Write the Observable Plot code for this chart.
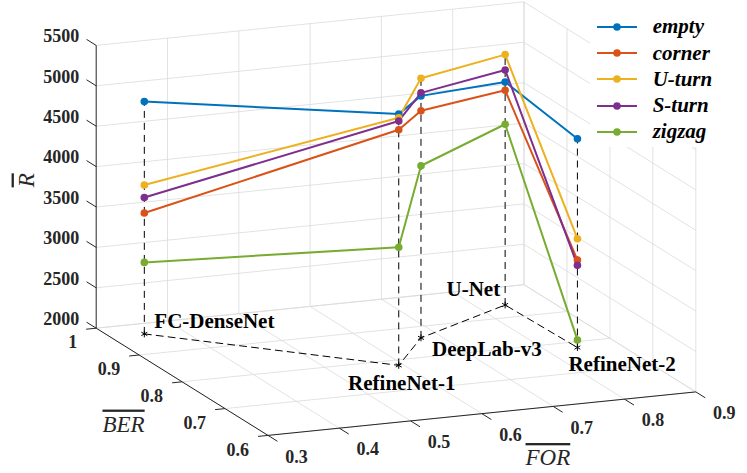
<!DOCTYPE html>
<html><head><meta charset="utf-8">
<script src="https://cdn.jsdelivr.net/npm/d3@7"></script>
<script src="https://cdn.jsdelivr.net/npm/@observablehq/plot@0.6"></script>
<style>
body{margin:0;background:#fff;}
#wrap{position:relative;width:747px;height:473px;overflow:hidden;}
#legend{position:absolute;left:590px;top:2px;width:155px;height:145px;background:#fff;font-family:"Liberation Serif","Times New Roman",serif;font-weight:bold;font-style:italic;font-size:21px;color:#000;}
.row{position:absolute;left:0;height:26px;display:flex;align-items:center;}
.row svg{margin-left:6.7px;margin-right:16px;}
</style></head><body><div id="wrap"></div>
<script>
// ---- data ----
const methods = ["FC-DenseNet", "RefineNet-1", "DeepLab-v3", "U-Net", "RefineNet-2"];
const forValues = [0.347, 0.593, 0.673, 0.838, 0.843];
const berValues = [0.966, 0.782, 0.863, 0.941, 0.781];
const seriesNames = ["empty", "corner", "U-turn", "S-turn", "zigzag"];
const empty  = [4875, 5110, 4995, 4760, 4583];
const corner = [3496, 4917, 4810, 4658, 3083];
const uturn  = [3842, 5065, 5214, 5099, 3347];
const sturn  = [3689, 5025, 5032, 4909, 3017];
const zigzag = [2885, 3462, 4130, 4237, 2094];
const forTicks = [0.3, 0.4, 0.5, 0.6, 0.7, 0.8, 0.9];
const berTicks = [0.6, 0.7, 0.8, 0.9, 1];
const rTicks = [2000, 2500, 3000, 3500, 4000, 4500, 5000, 5500];
const forTickLabels = ["0.3", "0.4", "0.5", "0.6", "0.7", "0.8", "0.9"];
const berTickLabels = ["0.6", "0.7", "0.8", "0.9", "1"];
const rTickLabels = ["2000", "2500", "3000", "3500", "4000", "4500", "5000", "5500"];
const colors = ["#0072BD", "#D95319", "#EDB120", "#7E2F8E", "#77AC30"];

// ---- view (3D -> 2D projection, layout only) ----
const forDom = [0.3, 0.9], berDom = [0.6, 1], rDom = [2000, 5500];
const view = {ox: 95.7, oy: 327.7, fx: 713, fy: -72.5, bx: 429.5, by: 268, rz: -0.0808};
function P(f, b, r) {
  return [view.ox + (f - forDom[0]) * view.fx + (berDom[1] - b) * view.bx,
          view.oy + (f - forDom[0]) * view.fy + (berDom[1] - b) * view.by + (r - rDom[0]) * view.rz];
}
const seg = (a, b) => ({x1: a[0], y1: a[1], x2: b[0], y2: b[1]});

const values = [empty, corner, uturn, sturn, zigzag];
const rows = [];
seriesNames.forEach((s, si) => methods.forEach((m, i) => {
  const p = P(forValues[i], berValues[i], values[si][i]);
  rows.push({series: s, method: m, x: p[0], y: p[1]});
}));
const stars = methods.map((m, i) => {
  const p = P(forValues[i], berValues[i], rDom[0]);
  return {method: m, x: p[0], y: p[1]};
});
const drops = methods.map((m, i) => seg(P(forValues[i], berValues[i], rDom[0]),
  P(forValues[i], berValues[i], d3.max(values, v => v[i]))));

// grid
const grid = [];
forTicks.forEach(f => { if (f > forDom[0]) grid.push(seg(P(f, berDom[1], rDom[0]), P(f, berDom[1], rDom[1]))); });
rTicks.forEach(r => grid.push(seg(P(forDom[0], berDom[1], r), P(forDom[1], berDom[1], r))));
berTicks.forEach(b => grid.push(seg(P(forDom[1], b, rDom[0]), P(forDom[1], b, rDom[1]))));
rTicks.forEach(r => grid.push(seg(P(forDom[1], berDom[1], r), P(forDom[1], berDom[0], r))));
forTicks.forEach(f => grid.push(seg(P(f, berDom[1], rDom[0]), P(f, berDom[0], rDom[0]))));
berTicks.forEach(b => grid.push(seg(P(forDom[0], b, rDom[0]), P(forDom[1], b, rDom[0]))));

// axes
const axes = [
  seg(P(forDom[0], berDom[1], rDom[0]), P(forDom[0], berDom[1], rDom[1])),
  seg(P(forDom[0], berDom[1], rDom[0]), P(forDom[0], berDom[0], rDom[0])),
  seg(P(forDom[0], berDom[0], rDom[0]), P(forDom[1], berDom[0], rDom[0]))
];
const ticks = [];
rTicks.forEach(r => ticks.push(seg(P(forDom[0], 1, r), P(forDom[0], 1.0225, r))));
berTicks.forEach(b => ticks.push(seg(P(forDom[0], b, rDom[0]), P(forDom[0] - 0.014, b, rDom[0]))));
forTicks.forEach(f => ticks.push(seg(P(f, berDom[0], rDom[0]), P(f, berDom[0] - 0.022, rDom[0]))));

const serif = '"Liberation Serif","Times New Roman",serif';
const labelPlace = {
  "FC-DenseNet": {anchor: "start", dx: 10, dy: -13},
  "RefineNet-1": {anchor: "middle", dx: 3, dy: 17.5},
  "DeepLab-v3": {anchor: "start", dx: 11, dy: 11},
  "U-Net": {anchor: "end", dx: -5, dy: -15.5},
  "RefineNet-2": {anchor: "start", dx: -9, dy: 16.5}
};

const plot = Plot.plot({
  width: 747, height: 473, margin: 0,
  x: {domain: [0, 747], range: [0, 747], axis: null},
  y: {domain: [0, 473], range: [0, 473], axis: null},
  color: {domain: seriesNames, range: colors},
  style: {background: "#fff", fontFamily: serif, overflow: "visible"},
  marks: [
    Plot.link(grid, {x1: "x1", y1: "y1", x2: "x2", y2: "y2", stroke: "#dadada", strokeWidth: 0.8}),
    Plot.line(stars, {x: "x", y: "y", stroke: "#000", strokeWidth: 1, strokeDasharray: "7,5"}),
    Plot.link(drops, {x1: "x1", y1: "y1", x2: "x2", y2: "y2", stroke: "#000", strokeWidth: 1, strokeDasharray: "7,5"}),
    Plot.dot(stars, {x: "x", y: "y", symbol: "asterisk", r: 3.2, stroke: "#000", strokeWidth: 1}),
    Plot.line(rows, {x: "x", y: "y", z: "series", stroke: "series", strokeWidth: 2}),
    Plot.dot(rows, {x: "x", y: "y", fill: "series", r: 3.8}),
    ...methods.map(m => Plot.text(stars.filter(s => s.method === m), {
      x: "x", y: "y", text: "method", fontSize: 21, fontWeight: "bold", fill: "#000",
      textAnchor: labelPlace[m].anchor, dx: labelPlace[m].dx, dy: labelPlace[m].dy})),
    Plot.link(axes, {x1: "x1", y1: "y1", x2: "x2", y2: "y2", stroke: "#262626", strokeWidth: 1}),
    Plot.link(ticks, {x1: "x1", y1: "y1", x2: "x2", y2: "y2", stroke: "#262626", strokeWidth: 1}),
    Plot.text(rTicks, {x: d => P(forDom[0], 1, d)[0], y: d => P(forDom[0], 1, d)[1], text: (d, i) => rTickLabels[i],
      textAnchor: "end", dx: -17, dy: -9, fontSize: 18, fontWeight: "bold", fill: "#262626"}),
    Plot.text(berTicks, {x: d => P(forDom[0], d, rDom[0])[0], y: d => P(forDom[0], d, rDom[0])[1], text: (d, i) => berTickLabels[i],
      textAnchor: "end", dx: -19, dy: 14.5, fontSize: 18, fontWeight: "bold", fill: "#262626"}),
    Plot.text(forTicks, {x: d => P(d, berDom[0], rDom[0])[0], y: d => P(d, berDom[0], rDom[0])[1], text: (d, i) => forTickLabels[i],
      textAnchor: "middle", dx: 28.5, dy: 21.5, fontSize: 18, fontWeight: "bold", fill: "#262626"}),
    // axis titles
    Plot.text(["R"], {x: () => P(forDom[0], 1, 3830)[0], y: () => P(forDom[0], 1, 3830)[1], text: d => d,
      dx: -70, dy: 0, rotate: -90, fontSize: 23, fontStyle: "italic", fill: "#262626"}),
    Plot.text(["BER"], {x: () => P(forDom[0], 0.75, rDom[0])[0], y: () => P(forDom[0], 0.75, rDom[0])[1], text: d => d,
      dx: -80, dy: 29, fontSize: 23, fontStyle: "italic", fill: "#262626"}),
    Plot.text(["FOR"], {x: () => P(0.6, berDom[0], rDom[0])[0], y: () => P(0.6, berDom[0], rDom[0])[1], text: d => d,
      dx: 66, dy: 44, fontSize: 23, fontStyle: "italic", fill: "#262626"})
  ]
});
d3.select(plot).selectAll("text").filter(function () { return ["R", "BER", "FOR"].includes(this.textContent); })
  .style("text-decoration", "overline");

const wrap = document.getElementById("wrap");
wrap.appendChild(plot);
const legend = document.createElement("div");
legend.id = "legend";
seriesNames.forEach((s, i) => {
  const row = document.createElement("div");
  row.className = "row";
  row.style.top = (24.7 + i * 26.3 - 13) + "px";
  row.innerHTML = `<svg width="40" height="12"><line x1="0" y1="6" x2="40" y2="6" stroke="${colors[i]}" stroke-width="2"/><circle cx="20" cy="6" r="3.8" fill="${colors[i]}"/></svg><span>${s}</span>`;
  legend.appendChild(row);
});
wrap.appendChild(legend);
</script></body></html>
